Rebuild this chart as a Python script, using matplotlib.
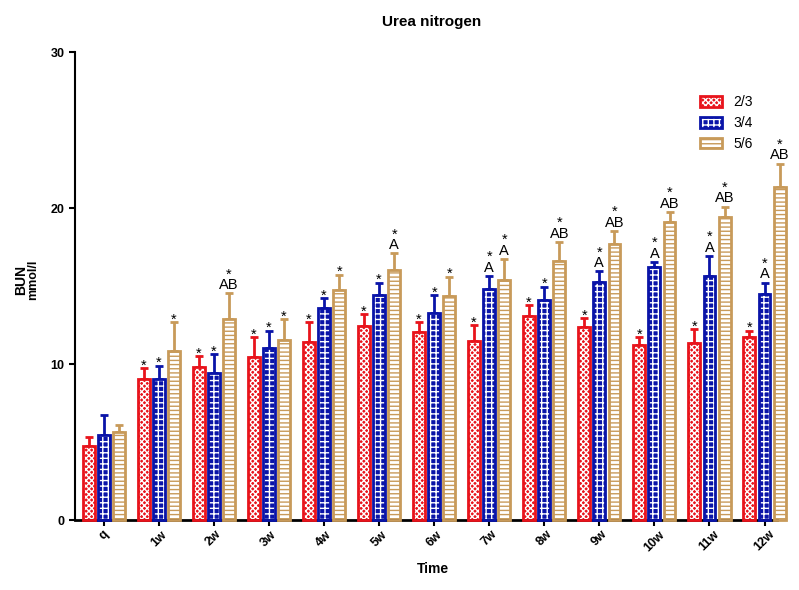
import matplotlib
matplotlib.use("Agg")
import matplotlib.pyplot as plt
import numpy as np
from matplotlib.patches import Patch

plt.rcParams['font.family'] = ['Liberation Sans', 'DejaVu Sans']
plt.rcParams['hatch.linewidth'] = 1.0

categories = ['q', '1w', '2w', '3w', '4w', '5w', '6w', '7w', '8w', '9w', '10w', '11w', '12w']
series_names = ['2/3', '3/4', '5/6']

red_mean = [4.74, 9.04, 9.81, 10.47, 11.41, 12.41, 12.05, 11.45, 13.08, 12.37, 11.24, 11.37, 11.71]
red_sd = [0.56, 0.68, 0.72, 1.26, 1.29, 0.79, 0.66, 1.05, 0.68, 0.56, 0.51, 0.87, 0.43]
blue_mean = [5.47, 9.06, 9.44, 11.0, 13.6, 14.42, 13.3, 14.8, 14.1, 15.26, 16.2, 15.64, 14.51]
blue_sd = [1.24, 0.84, 1.20, 1.14, 0.65, 0.81, 1.14, 0.86, 0.86, 0.68, 0.36, 1.28, 0.72]
gold_mean = [5.64, 10.87, 12.9, 11.52, 14.72, 16.0, 14.38, 15.4, 16.6, 17.69, 19.08, 19.44, 21.35]
gold_sd = [0.45, 1.83, 1.63, 1.38, 1.01, 1.10, 1.22, 1.33, 1.24, 0.84, 0.68, 0.66, 1.51]

# significance marks: star flag and letter label
red_star = [0, 1, 1, 1, 1, 1, 1, 1, 1, 1, 1, 1, 1]
red_letters = ['', '', '', '', '', '', '', '', '', '', '', '', '']
blue_star = [0, 1, 1, 1, 1, 1, 1, 1, 1, 1, 1, 1, 1]
blue_letters = ['', '', '', '', '', '', '', 'A', '', 'A', 'A', 'A', 'A']
gold_star = [0, 1, 1, 1, 1, 1, 1, 1, 1, 1, 1, 1, 1]
gold_letters = ['', '', 'AB', '', '', 'A', '', 'A', 'AB', 'AB', 'AB', 'AB', 'AB']

means = [red_mean, blue_mean, gold_mean]
sds = [red_sd, blue_sd, gold_sd]
stars = [red_star, blue_star, gold_star]
letters = [red_letters, blue_letters, gold_letters]

edge_colors = ['#E8141C', '#0A14A8', '#C89A5A']
face_colors = ['#E8141C', '#0A14A8', 'white']
hatch_colors = ['white', 'white', '#C89A5A']
hatches = ['xxxxxx', '+++', '----']

fig = plt.figure(figsize=(7.99, 5.90), dpi=100)
ax = fig.add_axes([0.094, 0.1186, 0.878, 0.793])

x = np.arange(len(categories))
width = 0.215
pitch = 0.275
handles = []
for i in range(3):
    xpos = x + (i - 1) * pitch
    ax.bar(xpos, means[i], width, color=face_colors[i], edgecolor=hatch_colors[i],
           hatch=hatches[i], linewidth=0, zorder=2, clip_on=False)
    ax.bar(xpos, means[i], width, facecolor='none', edgecolor=edge_colors[i],
           linewidth=2.0, zorder=3, clip_on=False)
    eb = ax.errorbar(xpos, means[i], yerr=[np.zeros(len(x)), sds[i]], fmt='none',
                     ecolor=edge_colors[i], elinewidth=2.0, capsize=3, capthick=2.0, zorder=1)
    for art in eb.get_children():
        art.set_clip_on(False)
    for xi, m, s, st, lt in zip(xpos, means[i], sds[i], stars[i], letters[i]):
        top = m + s
        if lt:
            label = ('*\n' if st else '') + lt
            ax.annotate(label, (xi, top), xytext=(0, 0.8), textcoords='offset points',
                        ha='center', va='bottom', fontsize=10.5, linespacing=0.72,
                        multialignment='center', annotation_clip=False)
        elif st:
            ax.annotate('*', (xi, top), xytext=(0, -1.1), textcoords='offset points',
                        ha='center', va='baseline', fontsize=10.5, annotation_clip=False)
    handles.append((Patch(facecolor=face_colors[i], edgecolor=hatch_colors[i], hatch=hatches[i], linewidth=0),
                    Patch(facecolor='none', edgecolor=edge_colors[i], linewidth=2.0)))

ax.set_xlim(-0.52, 12.22)
ax.set_ylim(0, 30)
ax.set_yticks([0, 10, 20, 30])
ax.set_yticklabels(['0', '10', '20', '30'], fontweight='bold', fontsize=9)
ax.set_xticks(x)
ax.set_xticklabels(categories, rotation=45, ha='center', fontweight='bold', fontsize=9)
for sp in ['top', 'right']:
    ax.spines[sp].set_visible(False)
ax.spines['left'].set_linewidth(1.5)
ax.spines['bottom'].set_linewidth(2.0)
ax.tick_params(axis='both', width=1.5, length=4, direction='out')
ax.tick_params(axis='x', pad=2)

fig.text(0.54, 0.963, 'Urea nitrogen', ha='center', va='center', fontsize=11, fontweight='bold')
fig.text(0.542, 0.035, 'Time', ha='center', va='center', fontsize=10, fontweight='bold')
fig.text(0.027, 0.525, 'BUN', ha='center', va='center', rotation=90, fontsize=10, fontweight='bold')
fig.text(0.042, 0.525, 'mmol/l', ha='center', va='center', rotation=90, fontsize=9, fontweight='bold')

leg = ax.legend(handles, series_names, loc='upper left', bbox_to_anchor=(0.86, 0.86),
                bbox_transform=fig.transFigure, frameon=False, fontsize=10,
                handlelength=1.6, handleheight=0.8, labelspacing=0.5, handletextpad=0.8)

fig.savefig('out.png', dpi=100)
